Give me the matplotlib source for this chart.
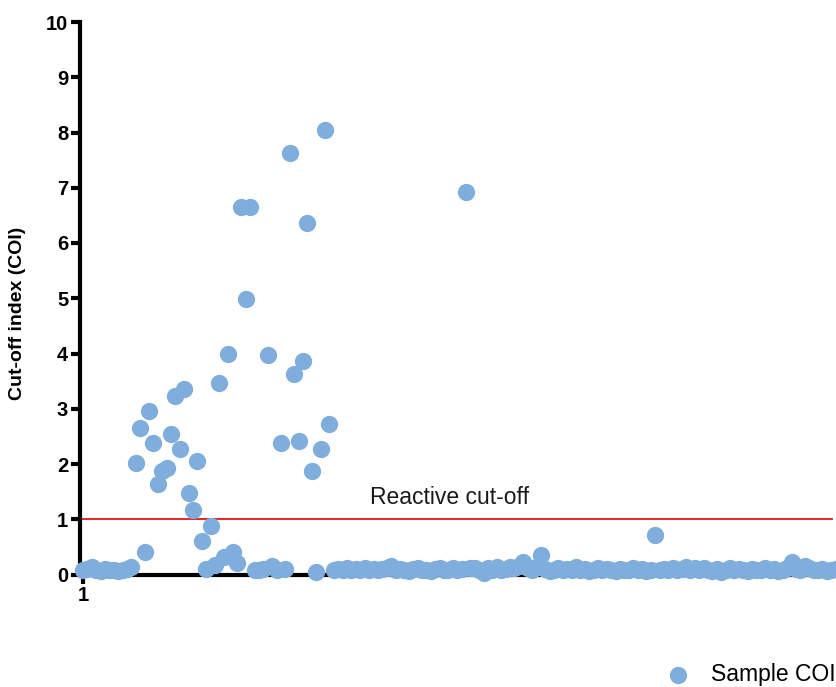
import matplotlib
matplotlib.use('Agg')
import matplotlib.pyplot as plt
import numpy as np

plt.rcParams['font.family'] = ['Liberation Sans', 'DejaVu Sans']

# COI value of each sample, in sample order (sample 1 first)
coi_start = [0.08, 0.10, 0.14, 0.09, 0.07, 0.10, 0.08, 0.09, 0.07, 0.08, 0.10, 0.13]
coi_reactive_block = [2.02, 2.65, 0.40, 2.96, 2.38, 1.63, 1.87, 1.93, 2.54, 3.23,
                      2.27, 3.36, 1.48, 1.17, 2.06, 0.60, 0.10, 0.88, 0.18, 3.46,
                      0.32, 4.00, 0.40, 0.20, 6.65, 4.99, 6.65, 0.08, 0.08, 0.10,
                      3.98, 0.15, 0.08, 2.38, 0.10, 7.63, 3.63, 2.41, 3.87, 6.36,
                      1.88, 0.05, 2.27, 8.05, 2.72]
coi_rest = [0.09, 0.10, 0.08, 0.11, 0.09, 0.10, 0.08, 0.11, 0.09, 0.10,
            0.08, 0.10, 0.11, 0.15, 0.08,
            0.10, 0.09, 0.07, 0.10, 0.12, 0.08, 0.09, 0.07, 0.10, 0.12,
            0.08, 0.09, 0.11, 0.08, 0.10,
            6.92,
            0.12, 0.11, 0.08, 0.03, 0.12, 0.09, 0.14, 0.08, 0.10, 0.13,
            0.11, 0.16, 0.22, 0.12, 0.08, 0.13, 0.36,
            0.10, 0.07, 0.09, 0.12, 0.08, 0.10, 0.09, 0.13, 0.08, 0.10,
            0.07, 0.09, 0.11, 0.08, 0.10, 0.09, 0.07, 0.10, 0.08, 0.09,
            0.11, 0.08, 0.10, 0.07, 0.09,
            0.72,
            0.08, 0.10, 0.09, 0.12, 0.08, 0.10, 0.13, 0.09, 0.11, 0.08,
            0.12, 0.09, 0.06, 0.10, 0.04, 0.09,
            0.11, 0.08, 0.10, 0.09, 0.07, 0.10, 0.08, 0.09, 0.11, 0.08,
            0.10, 0.07, 0.09, 0.12, 0.22, 0.10, 0.08, 0.15, 0.11,
            0.09, 0.08, 0.10, 0.07, 0.09, 0.10, 0.08, 0.09]
coi = np.array(coi_start + coi_reactive_block + coi_rest)
sample_no = np.arange(1, len(coi) + 1)

cutoff = 1.0
y_ticks = list(range(0, 11))
x_ticks = [1]

W, H = 837, 687
fig = plt.figure(figsize=(W / 100, H / 100), dpi=100)
ax = fig.add_axes([80 / W, 1 - 574.5 / H, 757 / W, 552.5 / H])

ax.scatter(sample_no, coi, s=155, color='#80AEDC', linewidths=0,
           zorder=3, clip_on=False, label='Sample COI')
ax.axhline(cutoff, xmin=0, xmax=0.993, color='#E3141B', lw=1.3, zorder=2)
ax.text(66.1, 1.40, 'Reactive cut-off', fontsize=16.5, color='#1a1a1a',
        ha='left', va='center')

ax.set_xlim(0.32, 172.3)
ax.set_ylim(0, 10)
ax.set_yticks(y_ticks)
ax.set_xticks(x_ticks)

for side in ['top', 'right']:
    ax.spines[side].set_visible(False)
for side in ['left', 'bottom']:
    ax.spines[side].set_linewidth(3)
    ax.spines[side].set_zorder(2.5)
ax.tick_params(width=3, length=6.5, pad=2, labelsize=14.5, colors='black')
for lbl in ax.get_xticklabels() + ax.get_yticklabels():
    lbl.set_fontweight('bold')

fig.text(18 / W, 1 - 313 / H, 'Cut-off index (COI)', rotation=90,
         ha='center', va='center', fontsize=14, fontweight='bold')

ax.legend(loc='center left', bbox_to_anchor=(655 / W, 1 - 675 / H),
          bbox_transform=fig.transFigure, frameon=False, fontsize=16.5,
          borderpad=0, borderaxespad=0, handletextpad=0.45, scatterpoints=1)

fig.savefig('out.png', dpi=100)
